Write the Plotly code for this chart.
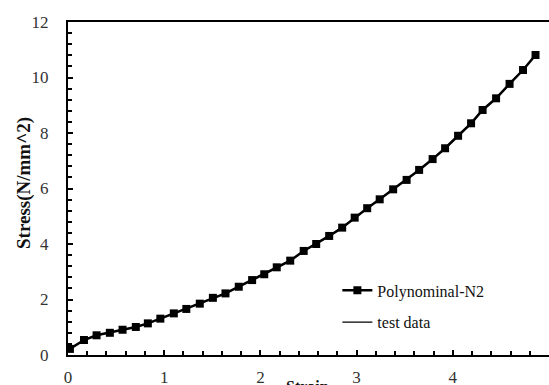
import plotly.graph_objects as go

strain = [0.02, 0.166, 0.297, 0.435, 0.567, 0.705, 0.83, 0.96, 1.10, 1.23, 1.37, 1.506,
          1.637, 1.775, 1.914, 2.04, 2.17, 2.31, 2.45, 2.58, 2.715, 2.85, 2.98,
          3.11, 3.24, 3.38, 3.52, 3.65, 3.79, 3.92, 4.055,
          4.19, 4.31, 4.45, 4.59, 4.73, 4.86]
stress_poly = [0.22, 0.54, 0.71, 0.80, 0.91, 1.01, 1.14, 1.31, 1.50, 1.66, 1.85, 2.06,
               2.22, 2.46, 2.70, 2.91, 3.16, 3.40, 3.75, 4.00, 4.29, 4.59, 4.95,
               5.29, 5.61, 5.97, 6.31, 6.67, 7.06, 7.45, 7.90,
               8.35, 8.83, 9.25, 9.77, 10.27, 10.81]
stress_test = stress_poly

y_ticks = [0, 2, 4, 6, 8, 10, 12]
x_ticks = [0, 1, 2, 3, 4, 5]

serif = "Liberation Serif, Times New Roman, serif"

fig = go.Figure()
fig.add_trace(go.Scatter(
    x=strain, y=stress_poly, name="Polynominal-N2", mode="lines+markers",
    line=dict(color="black", width=2.5),
    marker=dict(symbol="square", size=8, color="black"),
    legendgroup="a"))
fig.add_trace(go.Scatter(
    x=strain, y=stress_test, name="test data", mode="lines",
    line=dict(color="black", width=1.2),
    legendgroup="b"))

fig.update_layout(
    width=549, height=385,
    margin=dict(l=68, r=0, t=22, b=30, autoexpand=False),
    paper_bgcolor="white", plot_bgcolor="white",
    font=dict(family=serif, size=17, color="#333"),
    showlegend=True,
    legend=dict(x=0.56, y=0.245, xanchor="left", yanchor="top",
                bgcolor="rgba(0,0,0,0)", font=dict(family=serif, size=16, color="#111"),
                tracegroupgap=8, traceorder="grouped"),
    annotations=[
        dict(text="<b>Stress(N/mm^2)</b>", x=(24 - 68) / 481, y=(355 - 183) / 333,
             xref="paper", yref="paper",
             textangle=-90, showarrow=False, font=dict(family=serif, size=19, color="#111"),
             xanchor="center", yanchor="middle"),
        dict(text="<b>Strain</b>", x=(307 - 68) / 481, y=(355 - 386) / 333,
             xref="paper", yref="paper",
             showarrow=False, font=dict(family=serif, size=16, color="#111"),
             xanchor="center", yanchor="middle"),
    ],
)

fig.update_xaxes(range=[0, 5], tickvals=x_ticks, ticktext=[str(v) for v in x_ticks],
                 showgrid=False, zeroline=False, automargin=False,
                 showline=True, linecolor="black", linewidth=2, mirror=True,
                 ticks="inside", ticklen=5, tickwidth=1.5, tickcolor="black",
                 minor=dict(dtick=0.2, ticks="inside", ticklen=4, tickwidth=1.5, tickcolor="black"),
                 ticklabelstandoff=6)
fig.update_yaxes(range=[0, 12], tickvals=y_ticks, ticktext=[str(v) for v in y_ticks],
                 showgrid=False, zeroline=False, automargin=False,
                 showline=True, linecolor="black", linewidth=2, mirror=True,
                 ticks="inside", ticklen=5, tickwidth=1.5, tickcolor="black",
                 minor=dict(dtick=0.4, ticks="inside", ticklen=4, tickwidth=1.5, tickcolor="black"),
                 ticklabelstandoff=14)

fig.write_html("out.html", config={"displayModeBar": False},
               post_script="document.body.style.margin='0';document.body.style.overflow='hidden';")
